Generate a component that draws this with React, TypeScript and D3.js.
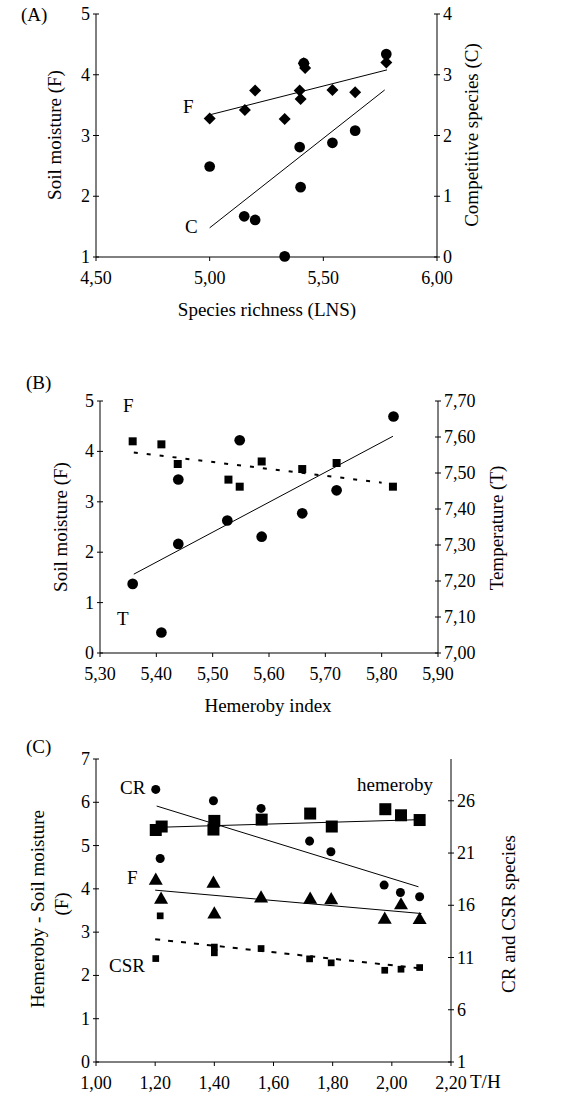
import React from 'react'
import * as d3 from 'd3'

// panel A: species richness vs soil moisture (F) and competitive species (C)
const aRichnessF = [5.0, 5.155, 5.2, 5.33, 5.396, 5.4, 5.414, 5.42, 5.54, 5.64, 5.777]
const aMoisture = [3.28, 3.42, 3.74, 3.27, 3.74, 3.6, 4.19, 4.11, 3.75, 3.71, 4.2]
const aRichnessC = [5.0, 5.152, 5.2, 5.33, 5.396, 5.4, 5.414, 5.54, 5.64, 5.777]
const aCompetitive = [1.49, 0.67, 0.61, 0.01, 1.81, 1.15, 3.19, 1.88, 2.08, 3.34]
const aTrendF = [[5.0, 3.34], [5.78, 4.08]]
const aTrendC = [[5.0, 0.48], [5.77, 2.75]]

// panel B: hemeroby index vs soil moisture (F) and temperature (T)
const bHemerobyF = [5.358, 5.409, 5.438, 5.528, 5.548, 5.587, 5.659, 5.72, 5.82]
const bMoisture = [4.2, 4.14, 3.75, 3.44, 3.3, 3.8, 3.65, 3.77, 3.3]
const bHemerobyT = [5.358, 5.409, 5.439, 5.439, 5.526, 5.548, 5.587, 5.659, 5.72, 5.821]
const bTemperature = [7.192, 7.057, 7.482, 7.303, 7.368, 7.591, 7.323, 7.388, 7.452, 7.657]
const bTrendF = [[5.36, 3.98], [5.8, 3.38]]
const bTrendT = [[5.36, 7.219], [5.82, 7.602]]

// panel C: T/H vs hemeroby, F (left) and CR, CSR species (right)
const cRatioHem = [1.202, 1.222, 1.397, 1.4, 1.56, 1.724, 1.797, 1.978, 2.031, 2.094]
const cHemeroby = [5.36, 5.44, 5.37, 5.57, 5.6, 5.74, 5.44, 5.84, 5.7, 5.59]
const cRatioF = [1.202, 1.22, 1.397, 1.4, 1.558, 1.724, 1.795, 1.976, 2.031, 2.094]
const cMoisture = [4.19, 3.75, 4.12, 3.41, 3.78, 3.75, 3.74, 3.29, 3.62, 3.28]
const cRatioCR = [1.202, 1.217, 1.397, 1.558, 1.722, 1.794, 1.974, 2.029, 2.094]
const cCR = [27.09, 20.48, 26.0, 25.27, 22.14, 21.12, 17.93, 17.22, 16.81]
const cRatioCSR = [1.202, 1.217, 1.4, 1.4, 1.558, 1.722, 1.795, 1.976, 2.031, 2.094]
const cCSR = [10.9, 14.99, 12.0, 11.45, 11.86, 10.87, 10.49, 9.78, 9.88, 10.04]
const cTrendHem = [[1.2, 5.42], [2.1, 5.6]]
const cTrendF = [[1.2, 3.97], [2.1, 3.43]]
const cTrendCR = [[1.205, 25.5], [2.09, 17.77]]
const cTrendCSR = [[1.2, 12.75], [2.1, 9.95]]

const aXTicks = [4.5, 5.0, 5.5, 6.0]
const aLTicks = [1, 2, 3, 4, 5]
const aRTicks = [0, 1, 2, 3, 4]
const bXTicks = [5.3, 5.4, 5.5, 5.6, 5.7, 5.8, 5.9]
const bLTicks = [0, 1, 2, 3, 4, 5]
const bRTicks = [7.0, 7.1, 7.2, 7.3, 7.4, 7.5, 7.6, 7.7]
const cXTicks = [1.0, 1.2, 1.4, 1.6, 1.8, 2.0, 2.2]
const cLTicks = [0, 1, 2, 3, 4, 5, 6, 7]
const cRTicks = [1, 6, 11, 16, 21, 26]

const FONT = "'Liberation Serif', Tinos, 'Times New Roman', 'DejaVu Serif'"
const comma2 = (v: number) => d3.format('.2f')(v).replace('.', ',')

type Scale = d3.ScaleLinear<number, number>

function XAxis({ x, y0, ticks }: { x: Scale; y0: number; ticks: number[] }) {
  const [r0, r1] = x.range()
  return (
    <g>
      <line x1={r0} x2={r1} y1={y0} y2={y0} stroke="#000" />
      {ticks.map(t => (
        <g key={t}>
          <line x1={x(t)} x2={x(t)} y1={y0} y2={y0 + 4} stroke="#000" />
          <text x={x(t)} y={y0 + 27} textAnchor="middle" fontSize={18}>{comma2(t)}</text>
        </g>
      ))}
    </g>
  )
}

function YAxis({ y, x0, ticks, side, fmt }: { y: Scale; x0: number; ticks: number[]; side: 'left' | 'right'; fmt: (v: number) => string }) {
  const [r0, r1] = y.range()
  const dir = side === 'left' ? -1 : 1
  return (
    <g>
      <line x1={x0} x2={x0} y1={r0} y2={r1} stroke="#000" />
      {ticks.map(t => (
        <g key={t}>
          <line x1={x0 - 3} x2={x0 + 3} y1={y(t)} y2={y(t)} stroke="#000" />
          <text x={x0 + dir * 6} y={y(t) + 6} textAnchor={side === 'left' ? 'end' : 'start'} fontSize={18}>{fmt(t)}</text>
        </g>
      ))}
    </g>
  )
}

function Trend({ pts, x, y, dash }: { pts: number[][]; x: Scale; y: Scale; dash?: string }) {
  const line = d3.line<number[]>().x(d => x(d[0])).y(d => y(d[1]))
  return <path d={line(pts) || ''} fill="none" stroke="#000" strokeWidth={dash ? 2 : 1} strokeDasharray={dash} />
}

function Marks({ xs, ys, x, y, type, size, rotate = 0 }: { xs: number[]; ys: number[]; x: Scale; y: Scale; type: d3.SymbolType; size: number; rotate?: number }) {
  const sym = d3.symbol().type(type).size(size)
  return (
    <g>
      {xs.map((v, i) => (
        <path key={i} d={sym() || ''} transform={`translate(${x(v)},${y(ys[i])}) rotate(${rotate})`} fill="#000" />
      ))}
    </g>
  )
}

function VText({ x, y, children }: { x: number; y: number; children: React.ReactNode }) {
  return <text transform={`translate(${x},${y}) rotate(-90)`} textAnchor="middle" fontSize={19}>{children}</text>
}

export default function App() {
  // panel A
  const ax = d3.scaleLinear().domain([4.5, 6]).range([96, 437])
  const ayL = d3.scaleLinear().domain([1, 5]).range([257, 14])
  const ayR = d3.scaleLinear().domain([0, 4]).range([257, 14])
  // panel B
  const bx = d3.scaleLinear().domain([5.3, 5.9]).range([100, 438])
  const byL = d3.scaleLinear().domain([0, 5]).range([653, 401])
  const byR = d3.scaleLinear().domain([7, 7.7]).range([653, 401])
  // panel C
  const cx = d3.scaleLinear().domain([1, 2.2]).range([96, 451])
  const cyL = d3.scaleLinear().domain([0, 7]).range([1062, 759])
  const cyR = d3.scaleLinear().domain([1, 30]).range([1062, 759])

  const int = (v: number) => String(v)

  return (
    <svg width={569} height={1094} style={{ position: 'absolute', left: 0, top: 0, background: '#fff', fontFamily: FONT }}>
      {/* A */}
      <text x={21} y={21} fontSize={19}>(A)</text>
      <XAxis x={ax} y0={257} ticks={aXTicks} />
      <YAxis y={ayL} x0={96} ticks={aLTicks} side="left" fmt={int} />
      <YAxis y={ayR} x0={437} ticks={aRTicks} side="right" fmt={int} />
      <Trend pts={aTrendF} x={ax} y={ayL} />
      <Trend pts={aTrendC} x={ax} y={ayR} />
      <Marks xs={aRichnessC} ys={aCompetitive} x={ax} y={ayR} type={d3.symbolCircle} size={90} />
      <Marks xs={aRichnessF} ys={aMoisture} x={ax} y={ayL} type={d3.symbolSquare} size={72} rotate={45} />
      <text x={183} y={113} fontSize={19}>F</text>
      <text x={185} y={233} fontSize={19}>C</text>
      <VText x={61} y={135}>Soil moisture (F)</VText>
      <VText x={478} y={135}>Competitive species (C)</VText>
      <text x={267} y={316} textAnchor="middle" fontSize={19}>Species richness (LNS)</text>

      {/* B */}
      <text x={26} y={389} fontSize={19}>(B)</text>
      <XAxis x={bx} y0={653} ticks={bXTicks} />
      <YAxis y={byL} x0={100} ticks={bLTicks} side="left" fmt={int} />
      <YAxis y={byR} x0={438} ticks={bRTicks} side="right" fmt={comma2} />
      <Trend pts={bTrendF} x={bx} y={byL} dash="4,9" />
      <Trend pts={bTrendT} x={bx} y={byR} />
      <Marks xs={bHemerobyF} ys={bMoisture} x={bx} y={byL} type={d3.symbolSquare} size={64} />
      <Marks xs={bHemerobyT} ys={bTemperature} x={bx} y={byR} type={d3.symbolCircle} size={90} />
      <text x={123} y={412} fontSize={19}>F</text>
      <text x={117} y={625} fontSize={19}>T</text>
      <VText x={67} y={527}>Soil moisture (F)</VText>
      <VText x={503} y={528}>Temperature (T)</VText>
      <text x={268} y={712} textAnchor="middle" fontSize={19}>Hemeroby index</text>

      {/* C */}
      <text x={26} y={753} fontSize={19}>(C)</text>
      <XAxis x={cx} y0={1062} ticks={cXTicks} />
      <YAxis y={cyL} x0={96} ticks={cLTicks} side="left" fmt={int} />
      <YAxis y={cyR} x0={451} ticks={cRTicks} side="right" fmt={int} />
      <Trend pts={cTrendCR} x={cx} y={cyR} />
      <Trend pts={cTrendHem} x={cx} y={cyL} />
      <Trend pts={cTrendF} x={cx} y={cyL} />
      <Trend pts={cTrendCSR} x={cx} y={cyR} dash="5,8" />
      <Marks xs={cRatioCR} ys={cCR} x={cx} y={cyR} type={d3.symbolCircle} size={64} />
      <Marks xs={cRatioHem} ys={cHemeroby} x={cx} y={cyL} type={d3.symbolSquare} size={144} />
      <Marks xs={cRatioF} ys={cMoisture} x={cx} y={cyL} type={d3.symbolTriangle} size={85} />
      <Marks xs={cRatioCSR} ys={cCSR} x={cx} y={cyR} type={d3.symbolSquare} size={45} />
      <text x={120} y={794} fontSize={19}>CR</text>
      <text x={357} y={791} fontSize={19}>hemeroby</text>
      <text x={127} y={884} fontSize={19}>F</text>
      <text x={109} y={972} fontSize={19}>CSR</text>
      <VText x={44} y={909}>Hemeroby - Soil moisture</VText>
      <VText x={68} y={904}>(F)</VText>
      <VText x={515} y={914}>CR and CSR species</VText>
      <text x={470} y={1088} fontSize={19}>T/H</text>
    </svg>
  )
}
